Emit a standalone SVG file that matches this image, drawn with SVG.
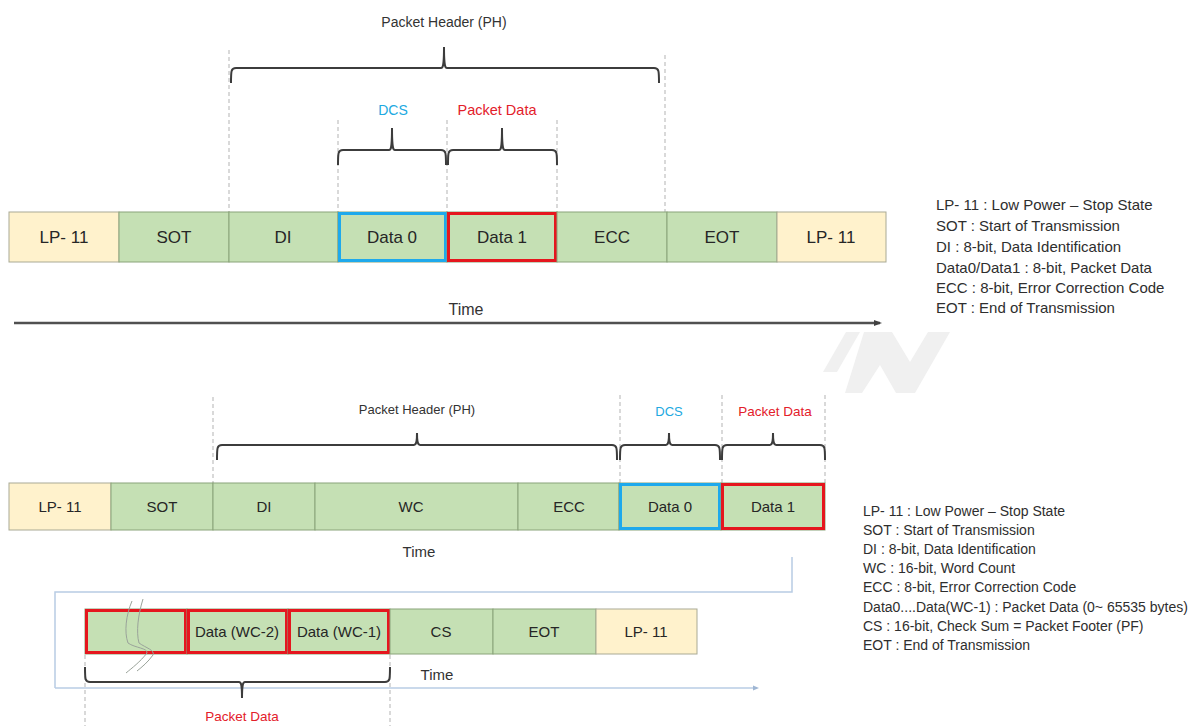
<svg xmlns="http://www.w3.org/2000/svg" width="1198" height="726" viewBox="0 0 1198 726">
<style>
.g{fill:#c5e0b4;stroke:#8aa47a;stroke-width:1}
.y{fill:#fff2cc;stroke:#a9aa95;stroke-width:1}
.bl{fill:none;stroke:#1ea9ec;stroke-width:3}
.rd{fill:none;stroke:#e5161e;stroke-width:3}
text{font-family:"Liberation Sans",Arial,sans-serif}
.t{text-anchor:middle;fill:#262626}
.t1{font-size:17px}
.t2{font-size:15px}
.t3{font-size:15px}
.lbl{text-anchor:middle;fill:#333}
.blue{fill:#21a9e1}
.red{fill:#e3202a}
.leg{fill:#2e2e2e}
.brace{fill:none;stroke:#3c3c3c;stroke-width:2}
.dash{stroke:#b3b3b3;stroke-width:1;stroke-dasharray:4 3;fill:none}
.wm{fill:#f0f0f0}
</style>
<defs>
<marker id="ah" markerUnits="userSpaceOnUse" markerWidth="8" markerHeight="8" refX="6" refY="4" orient="auto">
<path d="M0,1 L8,4 L0,7 z" fill="#404040"/>
</marker>
<marker id="ah2" markerUnits="userSpaceOnUse" markerWidth="6" markerHeight="6" refX="4" refY="3" orient="auto">
<path d="M0,0.5 L6,3 L0,5.5 z" fill="#9fb6d3"/>
</marker>
</defs>
<rect width="1198" height="726" fill="#ffffff"/>

<g id="watermark">
<polygon class="wm" points="823,372 846,332 860,332 837,372"/>
<polygon class="wm" points="864,332 892,332 910,362 928,332 950,332 915,393 896,393 880,365 862,393 845,393"/>
</g>

<g id="connectors">
<path class="dash" d="M229,50 V212 M665,55 V212 M338,120 V212 M447,120 V212 M557,120 V212"/>
<path class="brace" d="M231,83 C231,71 231,68 236,68 H441 C443,68 444,66 444,47 C444,66 445,68 447,68 H654 C659,68 659,71 659,83"/>
<path class="brace" d="M338,165 C338,153 338,150 343,150 H389 C391,150 392,148 392,128 C392,148 393,150 395,150 H441 C446,150 446,153 446,165"/>
<path class="brace" d="M448,165 C448,153 448,150 453,150 H499 C501,150 502,148 502,128 C502,148 503,150 505,150 H552 C557,150 557,153 557,165"/>
<line x1="14" y1="323" x2="880" y2="323" stroke="#505050" stroke-width="2.5" marker-end="url(#ah)"/>

<path class="dash" d="M213,397 V483 M620,395 V483 M722,395 V483 M825,395 V483"/>
<path class="brace" d="M217,460 C217,448 217,445 222,445 H414 C416,445 417,443 417,433 C417,443 418,445 420,445 H612 C617,445 617,448 617,460"/>
<path class="brace" d="M620,460 C620,448 620,445 625,445 H666 C668,445 669,443 669,433 C669,443 670,445 672,445 H715 C720,445 720,448 720,460"/>
<path class="brace" d="M722,460 C722,448 722,445 727,445 H770 C772,445 773,443 773,433 C773,443 774,445 776,445 H820 C825,445 825,448 825,460"/>

<path d="M792,557 V592 H55 V688" fill="none" stroke="#b8cce4" stroke-width="1.5"/>
<line x1="55" y1="688" x2="757" y2="688" stroke="#b8cce4" stroke-width="1.5" marker-end="url(#ah2)"/>
<path class="dash" d="M85,655 V726 M390,655 V726"/>
<path class="brace" d="M85,667 C85,679 85,682 90,682 H239 C241,682 242,684 242,698 C242,684 243,682 245,682 H385 C390,682 390,679 390,667"/>
</g>

<g id="top-labels">
<text class="lbl" x="444" y="27" font-size="14">Packet Header (PH)</text>
<text class="lbl blue" x="393" y="115" font-size="14">DCS</text>
<text class="lbl red" x="497" y="115" font-size="14.5">Packet Data</text>
<text class="lbl" x="466" y="315" font-size="16">Time</text>
</g>

<g id="top-row">
<g id="t-lp11a"><rect class="y" x="9" y="212" width="110" height="50"/><text class="t t1" x="64" y="243">LP- 11</text></g>
<g id="t-sot"><rect class="g" x="119" y="212" width="110" height="50"/><text class="t t1" x="174" y="243">SOT</text></g>
<g id="t-di"><rect class="g" x="229" y="212" width="109" height="50"/><text class="t t1" x="283" y="243">DI</text></g>
<g id="t-data0"><rect class="g" x="338" y="212" width="109" height="50"/><rect class="bl" x="339.5" y="213.5" width="106" height="47"/><text class="t t1" x="392" y="243">Data 0</text></g>
<g id="t-data1"><rect class="g" x="447" y="212" width="110" height="50"/><rect class="rd" x="448.5" y="213.5" width="107" height="47"/><text class="t t1" x="502" y="243">Data 1</text></g>
<g id="t-ecc"><rect class="g" x="557" y="212" width="110" height="50"/><text class="t t1" x="612" y="243">ECC</text></g>
<g id="t-eot"><rect class="g" x="667" y="212" width="110" height="50"/><text class="t t1" x="722" y="243">EOT</text></g>
<g id="t-lp11b"><rect class="y" x="777" y="212" width="109" height="50"/><text class="t t1" x="831" y="243">LP- 11</text></g>
</g>

<g id="top-legend" font-size="15">
<text class="leg" x="936" y="210">LP- 11 : Low Power – Stop State</text>
<text class="leg" x="936" y="231">SOT : Start of Transmission</text>
<text class="leg" x="936" y="252">DI : 8-bit, Data Identification</text>
<text class="leg" x="936" y="273">Data0/Data1 : 8-bit, Packet Data</text>
<text class="leg" x="936" y="293">ECC : 8-bit, Error Correction Code</text>
<text class="leg" x="936" y="313">EOT : End of Transmission</text>
</g>

<g id="bottom-labels">
<text class="lbl" x="417" y="414" font-size="13">Packet Header (PH)</text>
<text class="lbl blue" x="669" y="416" font-size="13">DCS</text>
<text class="lbl red" x="775" y="416" font-size="13.5">Packet Data</text>
<text class="lbl" x="419" y="557" font-size="15">Time</text>
<text class="lbl" x="437" y="680" font-size="15">Time</text>
<text class="lbl red" x="242" y="721" font-size="13.5">Packet Data</text>
</g>

<g id="row2">
<g id="b-lp11"><rect class="y" x="9" y="483" width="102" height="47"/><text class="t t2" x="60" y="512">LP- 11</text></g>
<g id="b-sot"><rect class="g" x="111" y="483" width="102" height="47"/><text class="t t2" x="162" y="512">SOT</text></g>
<g id="b-di"><rect class="g" x="213" y="483" width="102" height="47"/><text class="t t2" x="264" y="512">DI</text></g>
<g id="b-wc"><rect class="g" x="315" y="483" width="203" height="47"/><text class="t t2" x="411" y="512">WC</text></g>
<g id="b-ecc"><rect class="g" x="518" y="483" width="101" height="47"/><text class="t t2" x="569" y="512">ECC</text></g>
<g id="b-data0"><rect class="g" x="619" y="483" width="102" height="47"/><rect class="bl" x="620.5" y="484.5" width="99" height="44"/><text class="t t2" x="670" y="512">Data 0</text></g>
<g id="b-data1"><rect class="g" x="721" y="483" width="104" height="47"/><rect class="rd" x="722.5" y="484.5" width="101" height="44"/><text class="t t2" x="773" y="512">Data 1</text></g>
</g>

<g id="row3">
<g id="c-break"><rect class="g" x="85" y="609" width="102" height="45"/><rect class="rd" x="86.5" y="610.5" width="99" height="42"/>
<path d="M132,601 C126,615 124,632 128,643 C135,648 148,648 147,653 C140,662 132,668 126,673" fill="none" stroke="#9aa39a" stroke-width="1"/>
<path d="M143,599 C138,615 136,632 139,643 C146,648 155,650 153,655 C148,662 142,667 137,671" fill="none" stroke="#9aa39a" stroke-width="1"/></g>
<g id="c-wc2"><rect class="g" x="187" y="609" width="101" height="45"/><rect class="rd" x="188.5" y="610.5" width="98" height="42"/><text class="t t3" x="237" y="637">Data (WC-2)</text></g>
<g id="c-wc1"><rect class="g" x="288" y="609" width="102" height="45"/><rect class="rd" x="289.5" y="610.5" width="99" height="42"/><text class="t t3" x="339" y="637">Data (WC-1)</text></g>
<g id="c-cs"><rect class="g" x="390" y="609" width="103" height="45"/><text class="t t3" x="441" y="637">CS</text></g>
<g id="c-eot"><rect class="g" x="493" y="609" width="103" height="45"/><text class="t t3" x="544" y="637">EOT</text></g>
<g id="c-lp11"><rect class="y" x="596" y="609" width="101" height="45"/><text class="t t3" x="646" y="637">LP- 11</text></g>
</g>

<g id="bottom-legend" font-size="14">
<text class="leg" x="863" y="516">LP- 11 : Low Power – Stop State</text>
<text class="leg" x="863" y="535">SOT : Start of Transmission</text>
<text class="leg" x="863" y="554">DI : 8-bit, Data Identification</text>
<text class="leg" x="863" y="573">WC : 16-bit, Word Count</text>
<text class="leg" x="863" y="592">ECC : 8-bit, Error Correction Code</text>
<text class="leg" x="863" y="612">Data0....Data(WC-1) : Packet Data (0~ 65535 bytes)</text>
<text class="leg" x="863" y="631">CS : 16-bit, Check Sum = Packet Footer (PF)</text>
<text class="leg" x="863" y="650">EOT : End of Transmission</text>
</g>
</svg>
